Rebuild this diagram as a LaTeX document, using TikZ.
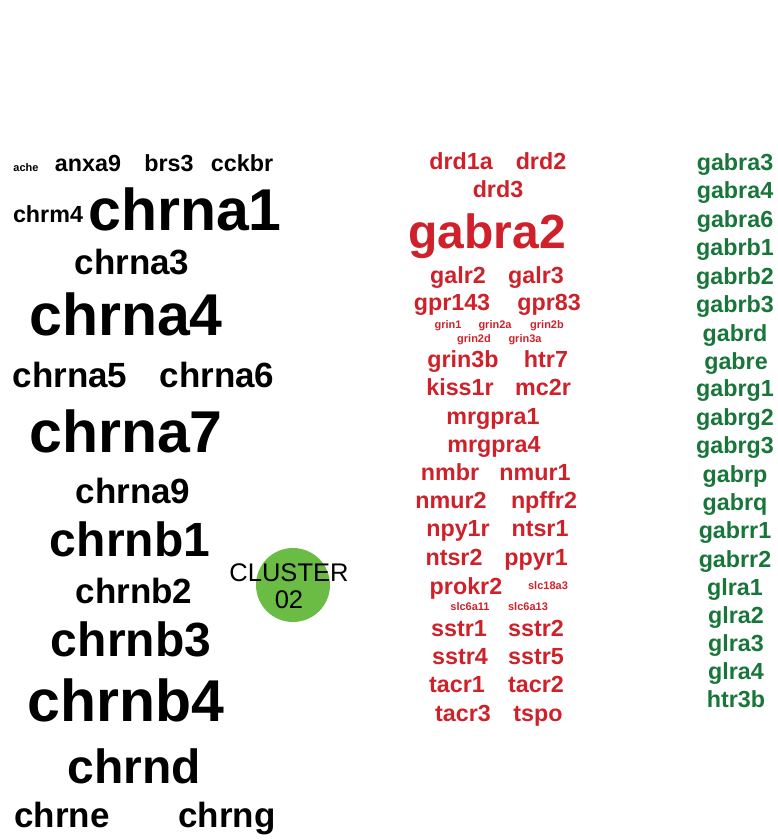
\documentclass[tikz,border=0pt]{standalone}
\usepackage{fontspec}
\setmainfont{Liberation Sans}
\definecolor{cred}{RGB}{206,33,42}
\definecolor{cgrn}{RGB}{24,118,58}
\definecolor{cball}{RGB}{106,188,68}
\begin{document}
\begin{tikzpicture}[x=1pt,y=-1pt,
  w/.style={inner sep=0pt,outer sep=0pt,anchor=base},
  sA/.style={w,yshift=-3.4pt,font=\bfseries\fontsize{11}{11}\selectfont},
  sB/.style={w,yshift=-7.2pt,font=\bfseries\fontsize{23.3}{23.3}\selectfont},
  sC/.style={w,yshift=-10.9pt,font=\bfseries\fontsize{35}{35}\selectfont},
  sD/.style={w,yshift=-15.2pt,font=\bfseries\fontsize{48}{48}\selectfont},
  sE/.style={w,yshift=-18.3pt,font=\bfseries\fontsize{59}{59}\selectfont},
  rd/.style={text=cred},
  gr/.style={text=cgrn}]
\useasboundingbox (0,0) rectangle (777,840);
% left cluster
\node[sA] (ache) at (26,167.6) {ache};
\node[sB] (anxa9) at (88,164) {anxa9};
\node[sB] (brs3) at (169,164) {brs3};
\node[sB] (cckbr) at (242,164) {cckbr};
\node[sB] (chrm4) at (48,215) {chrm4};
\node[sE] (chrna1) at (185,212) {chrna1};
\node[sC] (chrna3) at (132,264) {chrna3};
\node[sE] (chrna4) at (126,317) {chrna4};
\node[sC] (chrna5) at (70,377) {chrna5};
\node[sC] (chrna6) at (217,377) {chrna6};
\node[sE] (chrna7) at (126,434) {chrna7};
\node[sC] (chrna9) at (133,493) {chrna9};
\node[sD] (chrnb1) at (130,541) {chrnb1};
\node[sC] (chrnb2) at (134,593) {chrnb2};
\node[sD] (chrnb3) at (131,641) {chrnb3};
\node[sE] (chrnb4) at (126,703) {chrnb4};
\node[sD] (chrnd) at (134,768) {chrnd};
\node[sC] (chrne) at (62,817) {chrne};
\node[sC] (chrng) at (227,817) {chrng};
% cluster ball
\node[circle,fill=cball,minimum size=74pt,inner sep=0pt] (ball) at (293,585) {};
\node[inner sep=0pt,font=\fontsize{25.5}{25.5}\selectfont,align=center] (clab) at (289,586) {CLUSTER\\[2pt]02};
% red cluster
\node[sB,rd] (drd1a) at (461,162) {drd1a};
\node[sB,rd] (drd2) at (541,162) {drd2};
\node[sB,rd] (drd3) at (498,190) {drd3};
\node[sD,rd] (gabra2) at (487,233) {gabra2};
\node[sB,rd] (galr2) at (458,276) {galr2};
\node[sB,rd] (galr3) at (536,276) {galr3};
\node[sB,rd] (gpr143) at (452,303) {gpr143};
\node[sB,rd] (gpr83) at (549,303) {gpr83};
\node[sA,rd] (grin1) at (448,325) {grin1};
\node[sA,rd] (grin2a) at (495,325) {grin2a};
\node[sA,rd] (grin2b) at (547,325) {grin2b};
\node[sA,rd] (grin2d) at (474,339) {grin2d};
\node[sA,rd] (grin3a) at (525,339) {grin3a};
\node[sB,rd] (grin3b) at (463,360) {grin3b};
\node[sB,rd] (htr7) at (546,360) {htr7};
\node[sB,rd] (kiss1r) at (460,388) {kiss1r};
\node[sB,rd] (mc2r) at (543,388) {mc2r};
\node[sB,rd] (mrgpra1) at (493,417) {mrgpra1};
\node[sB,rd] (mrgpra4) at (494,445) {mrgpra4};
\node[sB,rd] (nmbr) at (450,473) {nmbr};
\node[sB,rd] (nmur1) at (535,473) {nmur1};
\node[sB,rd] (nmur2) at (451,501) {nmur2};
\node[sB,rd] (npffr2) at (544,501) {npffr2};
\node[sB,rd] (npy1r) at (458,529) {npy1r};
\node[sB,rd] (ntsr1) at (540,529) {ntsr1};
\node[sB,rd] (ntsr2) at (454,558) {ntsr2};
\node[sB,rd] (ppyr1) at (536,558) {ppyr1};
\node[sB,rd] (prokr2) at (466,587) {prokr2};
\node[sA,rd] (slc18a3) at (548,586) {slc18a3};
\node[sA,rd] (slc6a11) at (470,607) {slc6a11};
\node[sA,rd] (slc6a13) at (528,607) {slc6a13};
\node[sB,rd] (sstr1) at (459,629) {sstr1};
\node[sB,rd] (sstr2) at (536,629) {sstr2};
\node[sB,rd] (sstr4) at (460,657) {sstr4};
\node[sB,rd] (sstr5) at (536,657) {sstr5};
\node[sB,rd] (tacr1) at (457,685) {tacr1};
\node[sB,rd] (tacr2) at (536,685) {tacr2};
\node[sB,rd] (tacr3) at (463,714) {tacr3};
\node[sB,rd] (tspo) at (538,714) {tspo};
% green cluster
\node[sB,gr] (gabra3) at (735,163) {gabra3};
\node[sB,gr] (gabra4) at (735,191) {gabra4};
\node[sB,gr] (gabra6) at (735,220) {gabra6};
\node[sB,gr] (gabrb1) at (735,248) {gabrb1};
\node[sB,gr] (gabrb2) at (735,277) {gabrb2};
\node[sB,gr] (gabrb3) at (735,305) {gabrb3};
\node[sB,gr] (gabrd) at (735,334) {gabrd};
\node[sB,gr] (gabre) at (736,362) {gabre};
\node[sB,gr] (gabrg1) at (735,389) {gabrg1};
\node[sB,gr] (gabrg2) at (735,418) {gabrg2};
\node[sB,gr] (gabrg3) at (735,446) {gabrg3};
\node[sB,gr] (gabrp) at (735,475) {gabrp};
\node[sB,gr] (gabrq) at (735,503) {gabrq};
\node[sB,gr] (gabrr1) at (735,531) {gabrr1};
\node[sB,gr] (gabrr2) at (735,560) {gabrr2};
\node[sB,gr] (glra1) at (735,588) {glra1};
\node[sB,gr] (glra2) at (736,616) {glra2};
\node[sB,gr] (glra3) at (736,644) {glra3};
\node[sB,gr] (glra4) at (736,672) {glra4};
\node[sB,gr] (htr3b) at (736,700) {htr3b};
\end{tikzpicture}
\end{document}
